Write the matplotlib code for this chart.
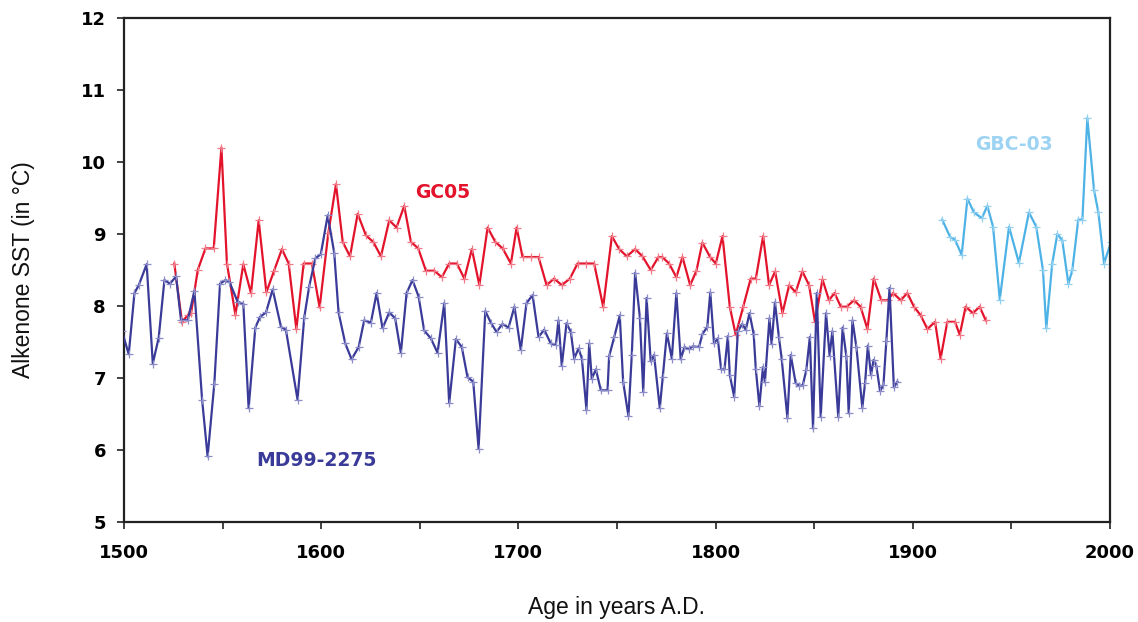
import matplotlib
matplotlib.use("Agg")
import matplotlib.pyplot as plt

# ---------------- data ----------------
gc05_year = [1525.5, 1529.4, 1532.3, 1534.0, 1537.4, 1541.3, 1545.5, 1549.4, 1552.2, 1556.5,
             1560.5, 1564.4, 1568.3, 1572.2, 1576.1, 1580.1, 1583.5, 1587.4, 1591.1, 1595.3,
             1599.2, 1603.6, 1607.5, 1610.9, 1614.6, 1618.5, 1622.7, 1626.4, 1630.3, 1634.5,
             1638.2, 1642.1, 1645.5, 1649.2, 1653.1, 1657.3, 1661.2, 1664.9, 1668.8, 1672.6,
             1676.4, 1680.2, 1684.4, 1688.3, 1692.0, 1696.2, 1699.1, 1702.1, 1706.3, 1710.2,
             1714.3, 1718.1, 1722.0, 1726.1, 1730.0, 1734.2, 1738.4, 1743.0, 1747.4, 1751.1,
             1755.0, 1759.2, 1762.9, 1767.1, 1771.0, 1773.0, 1776.4, 1780.1, 1783.2, 1787.1,
             1790.3, 1793.3, 1797.2, 1800.1, 1803.5, 1807.2, 1810.2, 1814.0, 1817.8, 1820.4,
             1824.1, 1827.1, 1830.2, 1833.9, 1837.3, 1840.6, 1844.0, 1847.4, 1850.4, 1854.2,
             1857.5, 1860.3, 1863.5, 1866.5, 1870.2, 1873.5, 1877.0, 1880.2, 1884.0, 1887.3,
             1890.0, 1893.9, 1897.2, 1900.6, 1904.0, 1907.4, 1911.3, 1914.1, 1917.5, 1921.4,
             1923.8, 1926.8, 1930.5, 1933.9, 1937.0]
gc05_sst = [8.59, 7.78, 7.87, 7.90, 8.50, 8.80, 8.80, 10.20, 8.59, 7.88,
            8.58, 8.18, 9.19, 8.19, 8.49, 8.79, 8.59, 7.68, 8.59, 8.59,
            7.98, 9.01, 9.69, 8.89, 8.69, 9.28, 8.98, 8.89, 8.69, 9.19,
            9.09, 9.39, 8.89, 8.80, 8.49, 8.49, 8.40, 8.59, 8.59, 8.38,
            8.79, 8.29, 9.09, 8.89, 8.80, 8.59, 9.09, 8.68, 8.68, 8.68,
            8.29, 8.38, 8.29, 8.38, 8.59, 8.59, 8.59, 7.99, 8.97, 8.79,
            8.69, 8.79, 8.69, 8.50, 8.68, 8.68, 8.59, 8.40, 8.68, 8.29,
            8.49, 8.88, 8.68, 8.59, 8.97, 7.99, 7.60, 7.99, 8.38, 8.38,
            8.97, 8.29, 8.48, 7.90, 8.29, 8.19, 8.48, 8.29, 7.78, 8.37,
            8.08, 8.18, 7.99, 7.99, 8.08, 7.99, 7.68, 8.38, 8.08, 8.08,
            8.18, 8.08, 8.18, 7.99, 7.87, 7.68, 7.78, 7.27, 7.78, 7.78,
            7.60, 7.99, 7.90, 7.99, 7.80]

md99_year = [1499.0, 1502.4, 1505.3, 1507.5, 1511.5, 1514.6, 1517.6, 1520.5, 1523.3, 1526.4,
             1528.9, 1532.3, 1535.7, 1539.6, 1542.4, 1545.8, 1548.7, 1551.4, 1553.4, 1557.6,
             1560.5, 1563.2, 1566.6, 1569.0, 1572.0, 1575.4, 1579.6, 1582.1, 1588.0, 1591.4,
             1593.9, 1597.0, 1599.8, 1603.3, 1606.6, 1608.8, 1612.2, 1615.4, 1619.0, 1621.8,
             1625.2, 1628.1, 1631.1, 1634.5, 1637.5, 1640.4, 1643.3, 1646.3, 1649.4, 1652.2,
             1655.6, 1659.0, 1662.4, 1664.9, 1668.3, 1671.3, 1674.2, 1677.1, 1679.8, 1683.2,
             1686.0, 1688.9, 1691.9, 1695.0, 1698.0, 1701.2, 1704.1, 1707.2, 1710.2, 1713.1,
             1716.4, 1719.0, 1720.3, 1722.0, 1724.4, 1726.6, 1728.3, 1730.5, 1732.2, 1734.5,
             1735.9, 1737.2, 1739.3, 1741.8, 1745.2, 1746.0, 1748.6, 1751.4, 1753.1, 1755.8,
             1757.5, 1759.2, 1761.6, 1763.3, 1765.0, 1767.1, 1768.8, 1771.7, 1773.2, 1775.3,
             1777.8, 1780.1, 1782.3, 1784.2, 1786.4, 1788.4, 1791.6, 1793.3, 1795.8, 1797.3,
             1799.2, 1801.1, 1802.8, 1804.5, 1806.2, 1807.2, 1809.4, 1811.3, 1813.5, 1815.3,
             1817.2, 1819.3, 1820.4, 1822.2, 1824.0, 1825.0, 1827.3, 1828.4, 1830.1, 1832.1,
             1833.5, 1836.4, 1838.1, 1840.6, 1842.5, 1844.2, 1846.0, 1847.8, 1849.4, 1851.3,
             1853.3, 1856.0, 1857.8, 1859.2, 1862.2, 1864.4, 1866.3, 1867.5, 1869.4, 1871.4,
             1874.4, 1875.8, 1877.2, 1878.8, 1880.1, 1881.5, 1883.4, 1885.1, 1886.6, 1888.2,
             1890.4, 1892.2]
md99_sst = [7.65, 7.33, 8.18, 8.29, 8.58, 7.20, 7.56, 8.36, 8.31, 8.41,
            7.81, 7.80, 8.21, 6.70, 5.91, 6.92, 8.31, 8.36, 8.34, 8.06,
            8.03, 6.58, 7.70, 7.85, 7.91, 8.23, 7.71, 7.67, 6.70, 7.84,
            8.27, 8.66, 8.72, 9.26, 8.74, 7.91, 7.48, 7.26, 7.43, 7.80,
            7.77, 8.18, 7.69, 7.91, 7.83, 7.35, 8.18, 8.36, 8.13, 7.66,
            7.55, 7.35, 8.04, 6.65, 7.54, 7.43, 7.01, 6.95, 6.02, 7.93,
            7.77, 7.64, 7.75, 7.70, 7.99, 7.39, 8.04, 8.15, 7.57, 7.67,
            7.48, 7.46, 7.80, 7.17, 7.76, 7.64, 7.27, 7.41, 7.27, 6.56,
            7.48, 6.99, 7.12, 6.83, 6.83, 7.30, 7.57, 7.87, 6.95, 6.47,
            7.32, 8.46, 7.84, 6.81, 8.11, 7.23, 7.32, 6.58, 7.02, 7.62,
            7.27, 8.18, 7.26, 7.43, 7.40, 7.44, 7.43, 7.61, 7.71, 8.19,
            7.48, 7.55, 7.12, 7.12, 7.58, 7.04, 6.74, 7.65, 7.75, 7.67,
            7.90, 7.61, 7.12, 6.61, 7.15, 6.94, 7.83, 7.47, 8.05, 7.57,
            7.27, 6.45, 7.32, 6.93, 6.89, 6.90, 7.11, 7.57, 6.30, 8.18,
            6.46, 7.90, 7.31, 7.65, 6.46, 7.70, 7.30, 6.51, 7.80, 7.43,
            6.59, 6.93, 7.45, 7.04, 7.25, 7.17, 6.82, 6.90, 7.52, 8.25,
            6.87, 6.95]

gbc03_year = [1914.9, 1918.9, 1921.4, 1924.8, 1927.7, 1931.0, 1935.0, 1937.8, 1940.7, 1944.1,
              1948.8, 1953.8, 1958.9, 1962.6, 1966.0, 1967.7, 1970.7, 1973.3, 1975.8, 1978.9,
              1980.9, 1983.9, 1986.0, 1988.5, 1991.9, 1994.1, 1997.0, 2000.5]
gbc03_sst = [9.20, 8.96, 8.92, 8.71, 9.49, 9.30, 9.22, 9.39, 9.10, 8.09,
             9.10, 8.60, 9.30, 9.10, 8.50, 7.69, 8.59, 9.00, 8.91, 8.31,
             8.50, 9.20, 9.20, 10.61, 9.61, 9.30, 8.59, 8.89]

x_ticks_major = [1500, 1600, 1700, 1800, 1900, 2000]
x_ticks_minor = [1550, 1650, 1750, 1850, 1950]
y_ticks = [5, 6, 7, 8, 9, 10, 11, 12]

# ---------------- figure ----------------
W, H = 1138, 622
fig = plt.figure(figsize=(W / 100, H / 100), dpi=100)
ax = fig.add_axes([124 / W, 1 - 522 / H, (1110 - 124) / W, (522 - 18) / H])

red = "#E3132C"
blue = "#3A3B98"
lblue = "#4DB2E6"

ax.plot(md99_year, md99_sst, color=blue, lw=1.6, marker="+", ms=6,
        mec="#8C8DC8", mew=0.9, zorder=3)
ax.plot(gc05_year, gc05_sst, color=red, lw=1.6, marker="+", ms=6,
        mec="#F07A88", mew=0.9, zorder=2)
ax.plot(gbc03_year, gbc03_sst, color=lblue, lw=1.6, marker="+", ms=6,
        mec="#92D0F0", mew=0.9, zorder=2)

ax.set_xlim(1500, 2000)
ax.set_ylim(5, 12)
ax.set_xticks(x_ticks_major)
ax.set_xticks(x_ticks_minor, minor=True)
ax.set_yticks(y_ticks)

tick_font = dict(family="DejaVu Sans", weight="bold", size=13)
ax.set_xticklabels([str(t) for t in x_ticks_major], **tick_font)
ax.set_yticklabels([str(t) for t in y_ticks], **tick_font)
ax.tick_params(axis="both", which="both", direction="out", length=5, width=1.2,
               colors="#222222", labelcolor="black")
ax.tick_params(axis="x", which="both", pad=11)
ax.tick_params(axis="y", pad=8)

for s in ax.spines.values():
    s.set_linewidth(1.6)
    s.set_color("#222222")

label_font = dict(family="Liberation Sans", size=16.5, color="#111111")
ax.set_xlabel("Age in years A.D.", **label_font)
ax.set_ylabel("Alkenone SST (in °C)", **label_font)
ax.xaxis.set_label_coords(0.5, -0.147)
ax.yaxis.set_label_coords(-0.09, 0.5)

ser_font = dict(family="DejaVu Sans", weight="bold", size=13.5)
ax.text(1661.4, 9.58, "GC05", color=red, ha="center", va="center", **ser_font)
ax.text(1597.5, 5.86, "MD99-2275", color=blue, ha="center", va="center", **ser_font)
ax.text(1951.5, 10.25, "GBC-03", color="#9DD3F2", ha="center", va="center", **ser_font)

fig.savefig("out.png", dpi=100)
